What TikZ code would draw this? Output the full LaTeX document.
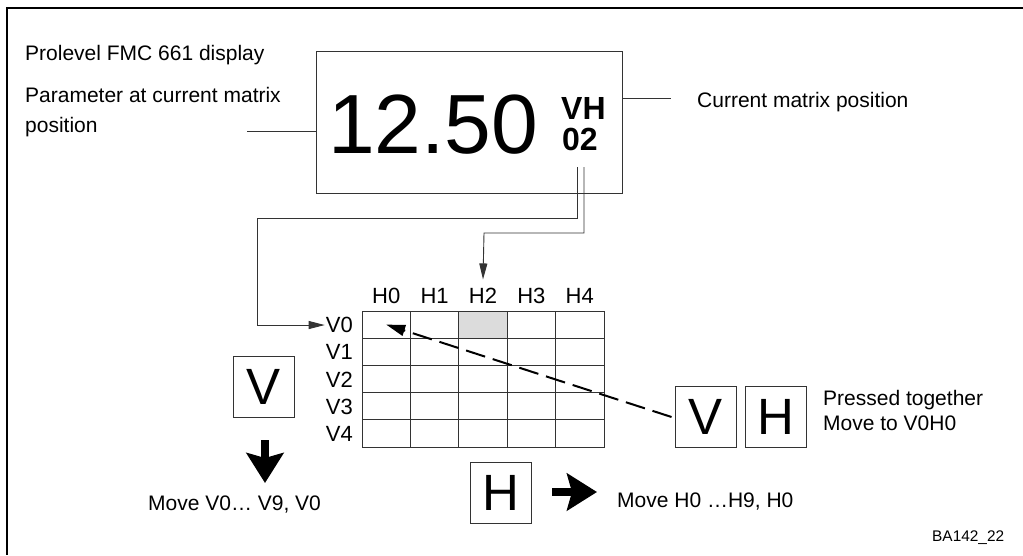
\documentclass[tikz,border=0pt]{standalone}
\usepackage{fontspec}
\setmainfont{Liberation Sans}
\usetikzlibrary{arrows.meta,calc}
\newcommand{\fsz}[2]{\fontsize{#1}{#2}\selectfont}
\definecolor{linegray}{HTML}{333333}
\definecolor{cellgray}{HTML}{DCDCDC}
\begin{document}
\begin{tikzpicture}[x=1pt,y=-1pt,
  lbl/.style={font=\fsz{21}{30}, inner sep=0pt, align=left, text=black},
  gl/.style={font=\fsz{22}{26}, inner sep=0pt},
  cell/.style={draw=linegray, line width=0.9pt, minimum width=48.4pt, minimum height=27.2pt, inner sep=0pt},
  keybox/.style={draw=linegray, line width=0.9pt, minimum size=61pt, inner sep=0pt, font=\fsz{51}{51}},
  conn/.style={draw=linegray, line width=0.9pt},
  connarrow/.style={conn, -{Triangle[length=16pt,width=8pt]}},
  bigarrow/.style={line width=8pt, -{Stealth[length=30pt,width=37pt,inset=5pt]}},
]
\useasboundingbox (0,0) rectangle (1023,555);
% outer frame (only top and left visible)
\draw[line width=2pt] (1023,8) -- (7,8) -- (7,555);

% display
\node[draw=linegray, line width=0.9pt, minimum width=306pt, minimum height=142pt, inner sep=0pt] (disp) at (469,122) {};
\node[inner sep=0pt, anchor=base west, font=\fsz{84}{84}] (val) at (328,153) {12.50};
\node[inner sep=0pt, anchor=base west, font=\fsz{32}{32}\bfseries] (vh) at (561,119) {VH};
\node[inner sep=0pt, anchor=base west, font=\fsz{32}{32}\bfseries] (pos) at (562,150) {02};
\coordinate (p0) at (577,167);
\coordinate (p2) at (584,167);

% texts top
\node[lbl, anchor=base west] (title) at (25,60) {Prolevel FMC 661 display};
\node[lbl, anchor=base west] (param) at (25,132) {Parameter at current matrix\\position};
\node[lbl, anchor=base west] (cur) at (697,107) {Current matrix position};
\coordinate (parend) at (247,131);
\coordinate (curend) at (671,98);
\draw[conn] (parend) -- (parend -| disp.west);
\draw[conn] (disp.east |- curend) -- (curend);

% grid
\foreach \r in {0,...,4}{
  \foreach \c in {0,...,4}{
    \node[cell] (c-\r-\c) at ({386.2+48.4*\c},{324.6+27.2*\r}) {};
  }
}
\node[cell, fill=cellgray] at (c-0-2) {};
\foreach \c in {0,...,4}{
  \node[gl, anchor=base] (lh\c) at ({386.2+48.4*\c},303) {H\c};
}
\foreach \r in {0,...,4}{
  \node[gl, anchor=base east] (lv\r) at (353,{332.6+27.2*\r}) {V\r};
}

% connectors from display
\draw[connarrow] (p0) |- (257,218) |- ([xshift=-1pt]lv0.west);
\draw[connarrow] (p2) |- (484,233) -- ([yshift=8pt]lh2.north);

% keys
\node[keybox] (kv) at (263.5,386.5) {V};
\node[keybox] (kh) at (501,492.5) {H};
\node[keybox] (kv2) at (705.5,417) {V};
\node[keybox] (kh2) at (776,417) {H};

\draw[line width=2pt, dash pattern=on 20pt off 8pt, -{Triangle[length=19pt,width=11pt]}] ([xshift=-3pt]kv2.west) -- (c-0-0.center);

% big arrows
\coordinate (va) at (265,440);
\coordinate (vb) at (265,483);
\draw[bigarrow] (va) -- (vb);
\coordinate (ha) at (552,492);
\coordinate (hb) at (597,492);
\draw[bigarrow] (ha) -- (hb);

% texts bottom
\node[lbl, anchor=base west] (movev) at (148,510) {Move V0… V9, V0};
\node[lbl, anchor=base west] (moveh) at (617,507) {Move H0 …H9, H0};
\node[lbl, anchor=base west, font=\fsz{21}{25}] (press) at (823,430) {Pressed together\\Move to V0H0};
\node[inner sep=0pt, anchor=base west, font=\fsz{15.4}{18}] (ref) at (932,541) {BA142\_22};
\end{tikzpicture}
\end{document}
